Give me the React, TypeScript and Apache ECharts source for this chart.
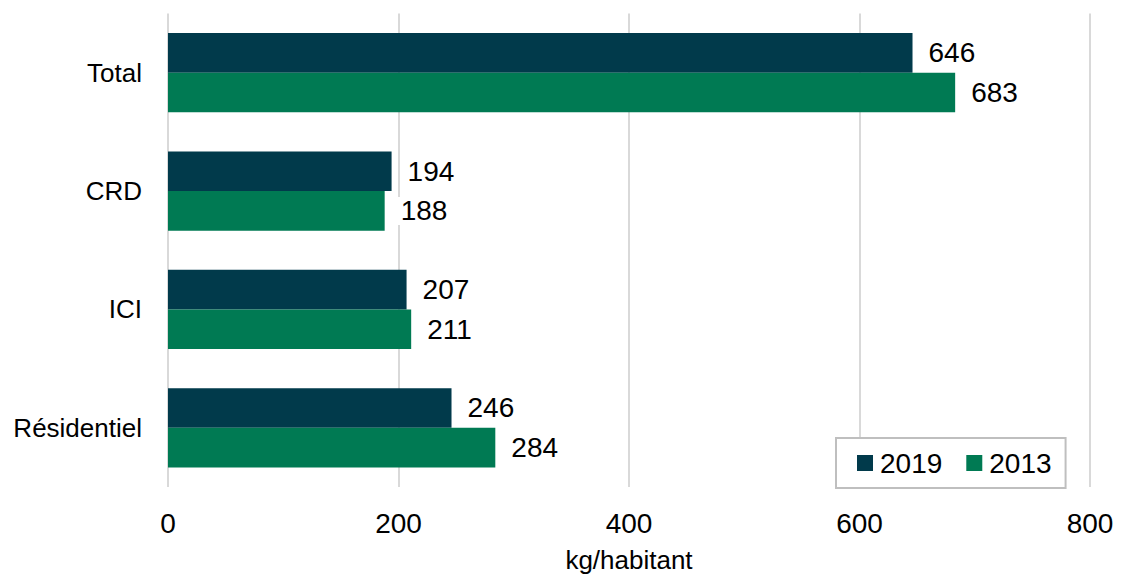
import React, { useEffect, useRef } from "react";
import * as echarts from "echarts";

const categories = ["Résidentiel", "ICI", "CRD", "Total"];
const values2019 = [246, 207, 194, 646];
const values2013 = [284, 211, 188, 683];
const xTicks = [0, 200, 400, 600, 800];
const seriesNames = ["2019", "2013"];
const colors = ["#013A4B", "#007A53"];

export default function App() {
  const ref = useRef<HTMLDivElement>(null);
  useEffect(() => {
    if (!ref.current) return;
    const chart = echarts.init(ref.current, undefined, { renderer: "svg" });
    const font = "'Liberation Sans', Arial, sans-serif";
    const labelStyle = {
      show: true,
      position: "right" as const,
      distance: 12,
      fontSize: 28,
      fontFamily: font,
      color: "#000",
      backgroundColor: "#fff",
      padding: [0, 4, 0, 4],
    };
    chart.setOption({
      animation: false,
      color: colors,
      grid: { left: 168, right: 31, top: 13.5, bottom: 87.5, containLabel: false },
      legend: {
        data: seriesNames,
        left: 836,
        top: 438,
        padding: [11, 14, 11, 21],
        borderColor: "#bfbfbf",
        borderWidth: 2,
        backgroundColor: "#fff",
        icon: "rect",
        itemWidth: 16,
        itemHeight: 16,
        itemGap: 24,
        textStyle: { fontSize: 28, fontFamily: font, color: "#000", padding: [0, 0, 0, 2] },
      },
      xAxis: {
        type: "value",
        min: xTicks[0],
        max: xTicks[xTicks.length - 1],
        interval: 200,
        name: "kg/habitant",
        nameLocation: "middle",
        nameGap: 60,
        nameTextStyle: { fontSize: 26, fontFamily: font, color: "#000" },
        axisLine: { show: false },
        axisTick: { show: false },
        axisLabel: { fontSize: 28, fontFamily: font, color: "#000", margin: 22 },
        splitLine: { show: true, lineStyle: { color: "#d9d9d9", width: 2 } },
      },
      yAxis: {
        type: "category",
        data: categories,
        axisLine: { show: false },
        axisTick: { show: false },
        axisLabel: { fontSize: 26, fontFamily: font, color: "#000", margin: 26 },
      },
      series: [
        {
          name: seriesNames[0],
          type: "bar",
          data: values2019,
          barGap: "0%",
          barCategoryGap: "33%",
          label: labelStyle,
          z: 3,
        },
        {
          name: seriesNames[1],
          type: "bar",
          data: values2013,
          barGap: "0%",
          barCategoryGap: "33%",
          label: labelStyle,
          z: 3,
        },
      ],
    });
    return () => chart.dispose();
  }, []);
  return <div ref={ref} style={{ width: 1121, height: 578, position: "absolute", left: 0, top: 0 }} />;
}
